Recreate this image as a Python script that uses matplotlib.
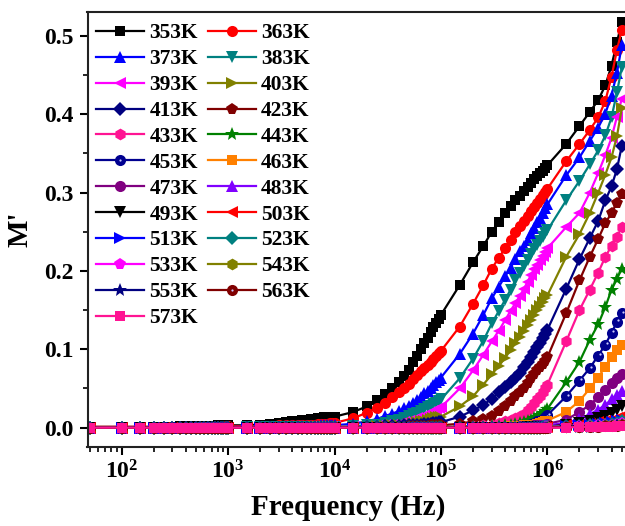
import matplotlib
matplotlib.use('Agg')
import matplotlib.pyplot as plt
import matplotlib.transforms as mtransforms
from matplotlib.ticker import LogLocator, MultipleLocator, FuncFormatter, NullFormatter, FormatStrFormatter
import math

plt.rcParams['font.family'] = ['Liberation Serif', 'DejaVu Serif']
plt.rcParams['font.weight'] = 'bold'
plt.rcParams['mathtext.fontset'] = 'custom'
plt.rcParams['mathtext.rm'] = 'Liberation Serif:bold'
plt.rcParams['mathtext.bf'] = 'Liberation Serif:bold'
plt.rcParams['mathtext.it'] = 'Liberation Serif:bold:italic'

# ---------------- data ----------------
freq = [50, 100, 150, 200, 250, 300, 350, 400, 450, 500, 550, 600, 650, 700, 750, 800, 850, 900, 950, 1000,
        1500, 2000, 2500, 3000, 3500, 4000, 4500, 5000, 5500, 6000, 6500, 7000, 7500, 8000, 8500, 9000, 9500, 10000,
        15e3, 20e3, 25e3, 30e3, 35e3, 40e3, 45e3, 50e3, 55e3, 60e3, 65e3, 70e3, 75e3, 80e3, 85e3, 90e3, 95e3, 100e3,
        150e3, 200e3, 250e3, 300e3, 350e3, 400e3, 450e3, 500e3, 550e3, 600e3, 650e3, 700e3, 750e3, 800e3, 850e3, 900e3, 950e3, 1000e3,
        1.5e6, 2e6, 2.5e6, 3e6, 3.5e6, 4e6, 4.5e6, 5e6]

temps = [353, 363, 373, 383, 393, 403, 413, 423, 433, 443, 453, 463,
         473, 483, 493, 503, 513, 523, 533, 543, 553, 563, 573]

m353 = [.001,.001,.001,.001,.001,.001,.002,.002,.002,.002,.002,.002,.002,.002,.002,.003,.003,.003,.003,.003,
        .003,.004,.005,.006,.007,.008,.009,.010,.010,.011,.011,.012,.012,.013,.013,.013,.014,.014,
        .020,.027,.035,.043,.051,.058,.066,.074,.084,.092,.101,.108,.115,.122,.128,.133,.139,.144,
        .182,.211,.232,.250,.263,.274,.283,.290,.296,.302,.307,.312,.317,.321,.325,.328,.331,.335,
        .362,.385,.403,.418,.437,.462,.492,.518]
m363 = [.001,.001,.001,.001,.001,.001,.001,.001,.001,.001,.001,.001,.001,.001,.001,.001,.001,.001,.002,.002,
        .002,.002,.002,.003,.003,.003,.003,.004,.004,.004,.004,.005,.005,.005,.005,.006,.006,.006,
        .012,.019,.025,.032,.039,.045,.051,.056,.062,.067,.072,.076,.080,.084,.088,.091,.095,.098,
        .129,.158,.182,.203,.217,.229,.240,.250,.257,.264,.270,.276,.282,.287,.292,.297,.301,.305,
        .340,.362,.380,.396,.417,.448,.482,.508]
m373 = [0,0,0,0,.001,.001,.001,.001,.001,.001,.001,.001,.001,.001,.001,.001,.001,.001,.001,.001,
        .001,.001,.001,.001,.002,.002,.002,.002,.002,.002,.002,.002,.003,.003,.003,.003,.003,.003,
        .005,.008,.011,.015,.018,.021,.025,.028,.031,.035,.039,.044,.047,.051,.054,.058,.061,.064,
        .094,.120,.144,.165,.180,.193,.204,.215,.225,.232,.240,.248,.255,.262,.268,.274,.280,.285,
        .322,.345,.366,.383,.401,.424,.453,.488]
m383 = [0,0,0,0,0,0,0,0,0,0,0,0,0,0,0,0,0,0,0,0,
        .001,.001,.001,.001,.001,.001,.001,.001,.001,.001,.001,.001,.001,.001,.001,.001,.001,.001,
        .002,.003,.004,.006,.008,.010,.012,.015,.017,.019,.021,.024,.026,.028,.030,.032,.034,.036,
        .063,.088,.111,.133,.149,.163,.176,.188,.198,.206,.214,.222,.228,.233,.238,.243,.248,.252,
        .290,.315,.336,.354,.373,.396,.428,.460]
m393 = [0,0,0,0,0,0,0,0,0,0,0,0,0,0,0,0,0,0,0,0,
        0,0,0,0,0,0,0,0,.001,.001,.001,.001,.001,.001,.001,.001,.001,.001,
        .001,.001,.002,.003,.004,.005,.007,.009,.010,.012,.013,.015,.017,.019,.021,.023,.025,.026,
        .050,.073,.093,.110,.124,.137,.149,.159,.168,.177,.186,.195,.202,.208,.214,.219,.224,.229,
        .256,.274,.300,.325,.348,.370,.397,.420]
m403 = [0,0,0,0,0,0,0,0,0,0,0,0,0,0,0,0,0,0,0,0,
        0,0,0,0,0,0,0,0,0,0,.001,.001,.001,.001,.001,.001,.001,.001,
        .001,.001,.002,.002,.003,.003,.004,.005,.006,.007,.008,.009,.010,.011,.012,.013,.013,.014,
        .027,.040,.055,.068,.079,.089,.099,.108,.116,.124,.131,.138,.144,.150,.155,.160,.165,.169,
        .218,.247,.274,.300,.323,.345,.372,.408]
m413 = [0,0,0,0,0,0,0,0,0,0,0,0,0,0,0,0,0,0,0,0,
        0,0,0,0,0,0,0,0,0,0,0,0,0,0,0,0,0,0,
        .001,.001,.001,.002,.002,.002,.003,.003,.003,.004,.004,.005,.005,.005,.006,.006,.007,.007,
        .014,.022,.029,.037,.045,.052,.058,.064,.070,.077,.084,.090,.097,.103,.108,.114,.119,.125,
        .177,.215,.242,.264,.290,.308,.330,.360]
m423 = [0,0,0,0,0,0,0,0,0,0,0,0,0,0,0,0,0,0,0,0,
        0,0,0,0,0,0,0,0,0,0,0,0,0,0,0,0,0,0,
        0,.001,.001,.001,.001,.001,.001,.002,.002,.002,.002,.002,.002,.003,.003,.003,.003,.003,
        .005,.008,.011,.015,.021,.027,.034,.041,.046,.051,.057,.063,.068,.073,.077,.081,.085,.090,
        .146,.188,.218,.241,.261,.274,.287,.298]
m433 = [0,0,0,0,0,0,0,0,0,0,0,0,0,0,0,0,0,0,0,0,
        0,0,0,0,0,0,0,0,0,0,0,0,0,0,0,0,0,0,
        0,0,0,0,0,0,0,0,0,0,.001,.001,.001,.001,.001,.001,.001,.001,
        .001,.002,.003,.004,.006,.008,.010,.012,.015,.018,.022,.026,.031,.036,.040,.045,.050,.055,
        .110,.150,.176,.198,.218,.232,.244,.256]
m443 = [0,0,0,0,0,0,0,0,0,0,0,0,0,0,0,0,0,0,0,0,
        0,0,0,0,0,0,0,0,0,0,0,0,0,0,0,0,0,0,
        0,0,0,0,0,0,0,0,0,0,0,0,0,0,.001,.001,.001,.001,
        .001,.001,.001,.002,.002,.003,.004,.005,.006,.007,.009,.010,.012,.014,.016,.019,.021,.024,
        .058,.084,.112,.132,.154,.176,.190,.203]
m453 = [0,0,0,0,0,0,0,0,0,0,0,0,0,0,0,0,0,0,0,0,
        0,0,0,0,0,0,0,0,0,0,0,0,0,0,0,0,0,0,
        0,0,0,0,0,0,0,0,0,0,0,0,0,0,0,0,0,0,
        0,0,.001,.001,.001,.001,.002,.002,.003,.003,.004,.005,.006,.008,.009,.011,.013,.016,
        .040,.060,.076,.092,.106,.121,.135,.146]
m463 = [0,0,0,0,0,0,0,0,0,0,0,0,0,0,0,0,0,0,0,0,
        0,0,0,0,0,0,0,0,0,0,0,0,0,0,0,0,0,0,
        0,0,0,0,0,0,0,0,0,0,0,0,0,0,0,0,0,0,
        0,0,.001,.001,.001,.001,.002,.002,.002,.003,.003,.004,.004,.005,.006,.007,.008,.009,
        .020,.034,.050,.064,.078,.090,.099,.106]
m473 = [0,0,0,0,0,0,0,0,0,0,0,0,0,0,0,0,0,0,0,0,
        0,0,0,0,0,0,0,0,0,0,0,0,0,0,0,0,0,0,
        0,0,0,0,0,0,0,0,0,0,0,0,0,0,0,0,0,0,
        0,0,0,.001,.001,.001,.001,.001,.002,.002,.002,.002,.003,.003,.003,.004,.004,.005,
        .010,.020,.029,.039,.048,.057,.063,.068]
m483 = [0,0,0,0,0,0,0,0,0,0,0,0,0,0,0,0,0,0,0,0,
        0,0,0,0,0,0,0,0,0,0,0,0,0,0,0,0,0,0,
        0,0,0,0,0,0,0,0,0,0,0,0,0,0,0,0,0,0,
        0,0,0,0,0,0,0,0,.001,.001,.001,.001,.001,.001,.002,.002,.003,.003,
        .006,.011,.017,.023,.029,.036,.042,.047]
m493 = [0,0,0,0,0,0,0,0,0,0,0,0,0,0,0,0,0,0,0,0,
        0,0,0,0,0,0,0,0,0,0,0,0,0,0,0,0,0,0,
        0,0,0,0,0,0,0,0,0,0,0,0,0,0,0,0,0,0,
        0,0,0,0,0,0,0,0,0,0,.001,.001,.001,.001,.001,.001,.001,.001,
        .004,.006,.009,.012,.015,.019,.023,.027]
m503 = [0,0,0,0,0,0,0,0,0,0,0,0,0,0,0,0,0,0,0,0,
        0,0,0,0,0,0,0,0,0,0,0,0,0,0,0,0,0,0,
        0,0,0,0,0,0,0,0,0,0,0,0,0,0,0,0,0,0,
        0,0,0,0,0,0,0,0,0,0,0,0,.001,.001,.001,.001,.001,.001,
        .003,.004,.005,.007,.008,.010,.012,.015]
m513 = [0,0,0,0,0,0,0,0,0,0,0,0,0,0,0,0,0,0,0,0,
        0,0,0,0,0,0,0,0,0,0,0,0,0,0,0,0,0,0,
        0,0,0,0,0,0,0,0,0,0,0,0,0,0,0,0,0,0,
        0,0,0,0,0,0,0,0,0,0,0,0,0,0,.001,.001,.001,.001,
        .002,.003,.004,.005,.006,.007,.008,.010]
m523 = [0,0,0,0,0,0,0,0,0,0,0,0,0,0,0,0,0,0,0,0,
        0,0,0,0,0,0,0,0,0,0,0,0,0,0,0,0,0,0,
        0,0,0,0,0,0,0,0,0,0,0,0,0,0,0,0,0,0,
        0,0,0,0,0,0,0,0,0,0,0,0,0,0,0,.001,.001,.001,
        .002,.002,.003,.003,.004,.005,.006,.008]
m533 = [0,0,0,0,0,0,0,0,0,0,0,0,0,0,0,0,0,0,0,0,
        0,0,0,0,0,0,0,0,0,0,0,0,0,0,0,0,0,0,
        0,0,0,0,0,0,0,0,0,0,0,0,0,0,0,0,0,0,
        0,0,0,0,0,0,0,0,0,0,0,0,0,0,0,0,.001,.001,
        .001,.002,.002,.003,.003,.004,.005,.006]
m543 = [0,0,0,0,0,0,0,0,0,0,0,0,0,0,0,0,0,0,0,0,
        0,0,0,0,0,0,0,0,0,0,0,0,0,0,0,0,0,0,
        0,0,0,0,0,0,0,0,0,0,0,0,0,0,0,0,0,0,
        0,0,0,0,0,0,0,0,0,0,0,0,0,0,0,0,0,.001,
        .001,.001,.002,.002,.003,.003,.004,.005]
m553 = [0,0,0,0,0,0,0,0,0,0,0,0,0,0,0,0,0,0,0,0,
        0,0,0,0,0,0,0,0,0,0,0,0,0,0,0,0,0,0,
        0,0,0,0,0,0,0,0,0,0,0,0,0,0,0,0,0,0,
        0,0,0,0,0,0,0,0,0,0,0,0,0,0,0,0,0,0,
        .001,.001,.001,.002,.002,.002,.003,.004]
m563 = [0,0,0,0,0,0,0,0,0,0,0,0,0,0,0,0,0,0,0,0,
        0,0,0,0,0,0,0,0,0,0,0,0,0,0,0,0,0,0,
        0,0,0,0,0,0,0,0,0,0,0,0,0,0,0,0,0,0,
        0,0,0,0,0,0,0,0,0,0,0,0,0,0,0,0,0,0,
        .001,.001,.001,.001,.002,.002,.002,.003]
m573 = [0,0,0,0,0,0,0,0,0,0,0,0,0,0,0,0,0,0,0,0,
        0,0,0,0,0,0,0,0,0,0,0,0,0,0,0,0,0,0,
        0,0,0,0,0,0,0,0,0,0,0,0,0,0,0,0,0,0,
        0,0,0,0,0,0,0,0,0,0,0,0,0,0,0,0,0,0,
        0,.001,.001,.001,.001,.001,.002,.002]

series = [m353, m363, m373, m383, m393, m403, m413, m423, m433, m443, m453, m463,
          m473, m483, m493, m503, m513, m523, m533, m543, m553, m563, m573]

colors = ['#000000', '#FF0000', '#0000FF', '#008080', '#FF00FF', '#808000', '#000080', '#800000',
          '#FF1493', '#008000', '#000090', '#FF8000', '#800080', '#8000FF', '#000000', '#FF0000',
          '#0000FF', '#008080', '#FF00FF', '#808000', '#000080', '#800000', '#FF1493']
markers = ['s', 'o', '^', 'v', '<', '>', 'D', 'p', 'h', '*', 'o',
           's', 'o', '^', 'v', '<', '>', 'D', 'p', 'h', '*', 'o', 's']
msizes = {'s': 7.5, 'o': 8, '^': 9, 'v': 9, '<': 9, '>': 9, 'D': 7, 'p': 8.5, 'h': 8.5, '*': 10}
sphere = {453, 563}

# ---------------- figure ----------------
fig = plt.figure(figsize=(6.25, 5.26), dpi=100)
ax = fig.add_axes([0.14, 0.1508, 0.9024, 0.8255])
hl_trans = mtransforms.offset_copy(ax.transData, fig=fig, x=1.5, y=1.5, units='dots')

handles = []
labels = []
for T, y, c, mk in zip(temps, series, colors, markers):
    ln, = ax.plot(freq, y, color=c, marker=mk, ms=msizes[mk], lw=1.6, mew=0)
    if T in sphere:
        hl, = ax.plot(freq, y, ls='none', marker='o', ms=1.6, color='#C8C8FF', mew=0,
                      transform=hl_trans)
        handles.append((ln, hl))
    else:
        handles.append(ln)
    labels.append(f'{T}K')

ax.set_xscale('log')
ax.set_xlim(47.8, 9.5e6)
ax.set_ylim(-0.0243, 0.530)

ax.xaxis.set_major_locator(LogLocator(base=10, numticks=20))
ax.xaxis.set_minor_locator(LogLocator(base=10, subs=[2, 3, 4, 5, 6, 7, 8, 9], numticks=50))
ax.xaxis.set_major_formatter(FuncFormatter(lambda v, p: r'$\mathbf{10^{%d}}$' % int(round(math.log10(v)))))
ax.xaxis.set_minor_formatter(NullFormatter())
ax.yaxis.set_major_locator(MultipleLocator(0.1))
ax.yaxis.set_minor_locator(MultipleLocator(0.05))
ax.yaxis.set_major_formatter(FormatStrFormatter('%.1f'))

ax.tick_params(which='major', direction='out', length=6, width=1.5, labelsize=17, pad=4)
ax.tick_params(which='minor', direction='out', length=3.5, width=1.2)
for s in ax.spines.values():
    s.set_linewidth(1.5)
    s.set_color('#222222')

ax.set_xlabel('Frequency (Hz)', fontsize=21, fontweight='bold')
ax.xaxis.set_label_coords(0.462, -0.108)
ax.set_ylabel("M'", fontsize=21, fontweight='bold', labelpad=8)

# legend in row-major order (two columns)
order = list(range(0, 23, 2)) + list(range(1, 23, 2))
leg = ax.legend([handles[i] for i in order], [labels[i] for i in order], ncol=2,
                loc='upper left', bbox_to_anchor=(0.015, 0.975), frameon=False,
                prop={'family': 'Liberation Serif', 'weight': 'bold', 'size': 15.5},
                handlelength=2.23, handletextpad=0.25, columnspacing=0.45,
                labelspacing=0.27, borderaxespad=0, borderpad=0)

fig.savefig('out.png', dpi=100)
